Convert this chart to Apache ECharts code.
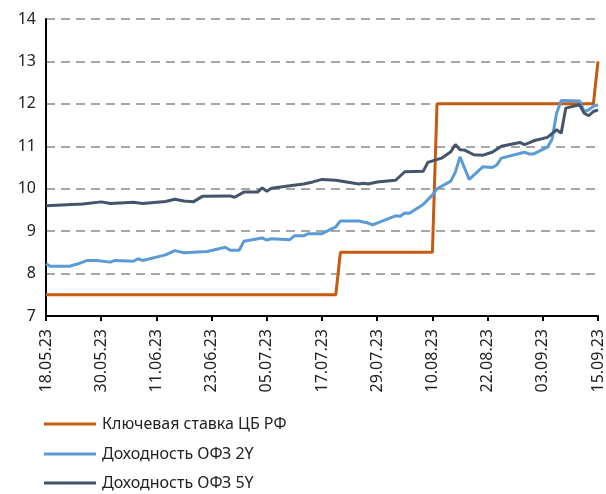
<!DOCTYPE html>
<html>
<head>
<meta charset="utf-8">
<script src="https://cdn.jsdelivr.net/npm/echarts@6/dist/echarts.min.js"></script>
<style>
  html, body { margin: 0; padding: 0; background: #fff; }
  #chart { width: 606px; height: 494px; }
</style>
</head>
<body>
<div id="chart"></div>
<script>
// calendar days on the x axis, 18.05.23 .. 15.09.23
const startDay = new Date(2023, 4, 18);
const dayCount = 121;
const days = [];
for (let i = 0; i < dayCount; i++) {
  const d = new Date(startDay.getTime() + i * 86400000);
  const dd = String(d.getDate()).padStart(2, "0");
  const mm = String(d.getMonth() + 1).padStart(2, "0");
  days.push(dd + "." + mm + ".23");
}

const seriesNames = ["Ключевая ставка ЦБ РФ", "Доходность ОФЗ 2Y", "Доходность ОФЗ 5Y"];

const keyRate = [
  ["18.05.23", 7.5], ["20.07.23", 7.5], ["21.07.23", 8.5], ["10.08.23", 8.5],
  ["11.08.23", 12], ["14.09.23", 12], ["15.09.23", 13]
];

const ofz2y = [
  ["18.05.23", 8.23], ["19.05.23", 8.17], ["23.05.23", 8.17], ["25.05.23", 8.23],
  ["27.05.23", 8.31], ["29.05.23", 8.31], ["01.06.23", 8.27], ["02.06.23", 8.31],
  ["06.06.23", 8.29], ["07.06.23", 8.35], ["08.06.23", 8.31], ["13.06.23", 8.44],
  ["15.06.23", 8.54], ["17.06.23", 8.49], ["22.06.23", 8.52], ["26.06.23", 8.62],
  ["27.06.23", 8.55], ["29.06.23", 8.55], ["30.06.23", 8.76], ["04.07.23", 8.84],
  ["05.07.23", 8.79], ["06.07.23", 8.82], ["10.07.23", 8.80], ["11.07.23", 8.89],
  ["13.07.23", 8.89], ["14.07.23", 8.94], ["17.07.23", 8.94], ["20.07.23", 9.10],
  ["21.07.23", 9.24], ["25.07.23", 9.24], ["27.07.23", 9.19], ["28.07.23", 9.15],
  ["01.08.23", 9.32], ["02.08.23", 9.36], ["03.08.23", 9.35], ["04.08.23", 9.43],
  ["05.08.23", 9.42], ["08.08.23", 9.63], ["10.08.23", 9.85], ["11.08.23", 10.0],
  ["14.08.23", 10.18], ["15.08.23", 10.39], ["16.08.23", 10.75], ["18.08.23", 10.22],
  ["19.08.23", 10.32], ["21.08.23", 10.52], ["23.08.23", 10.50], ["24.08.23", 10.56],
  ["25.08.23", 10.72], ["30.08.23", 10.86], ["31.08.23", 10.82], ["01.09.23", 10.82],
  ["04.09.23", 10.98], ["05.09.23", 11.16], ["06.09.23", 11.78], ["07.09.23", 12.08],
  ["11.09.23", 12.07], ["12.09.23", 11.82], ["13.09.23", 11.86], ["14.09.23", 11.94],
  ["15.09.23", 11.98]
];

const ofz5y = [
  ["18.05.23", 9.60], ["26.05.23", 9.64], ["30.05.23", 9.69], ["01.06.23", 9.65],
  ["06.06.23", 9.68], ["08.06.23", 9.65], ["13.06.23", 9.70], ["15.06.23", 9.75],
  ["17.06.23", 9.71], ["19.06.23", 9.69], ["21.06.23", 9.82], ["27.06.23", 9.83],
  ["28.06.23", 9.80], ["30.06.23", 9.92], ["03.07.23", 9.92], ["04.07.23", 10.02],
  ["05.07.23", 9.94], ["06.07.23", 10.01], ["10.07.23", 10.07], ["13.07.23", 10.11],
  ["15.07.23", 10.16], ["17.07.23", 10.22], ["20.07.23", 10.20], ["25.07.23", 10.11],
  ["26.07.23", 10.13], ["27.07.23", 10.11], ["29.07.23", 10.16], ["02.08.23", 10.20],
  ["04.08.23", 10.40], ["08.08.23", 10.41], ["09.08.23", 10.62], ["12.08.23", 10.72],
  ["14.08.23", 10.87], ["15.08.23", 11.04], ["16.08.23", 10.92], ["17.08.23", 10.91],
  ["19.08.23", 10.80], ["21.08.23", 10.79], ["23.08.23", 10.86], ["25.08.23", 11.00],
  ["29.08.23", 11.09], ["30.08.23", 11.04], ["31.08.23", 11.08], ["01.09.23", 11.13],
  ["04.09.23", 11.21], ["05.09.23", 11.30], ["06.09.23", 11.39], ["07.09.23", 11.31],
  ["08.09.23", 11.90], ["11.09.23", 11.98], ["12.09.23", 11.78], ["13.09.23", 11.72],
  ["14.09.23", 11.82], ["15.09.23", 11.86]
];

const colors = ["#c55a11", "#5b9bd5", "#44546a"];
const font = "Noto Sans";

const toPoints = (list) => list.map(([d, v]) => [days.indexOf(d), v]);

// one legend per row, stacked like the original's vertical key
const legendRow = (name, top) => ({
  left: 44,
  top: top,
  padding: 0,
  icon: "rect",
  itemWidth: 52,
  itemHeight: 3,
  textStyle: { fontFamily: font, fontSize: 16, color: "#222", padding: [0, 0, 0, 1] },
  data: [name],
});

const chart = echarts.init(document.getElementById("chart"));

chart.setOption({
  animation: false,
  backgroundColor: "#ffffff",
  color: colors,
  grid: { left: 46, right: 6, top: 19, bottom: 178 },
  legend: [
    legendRow(seriesNames[0], 416),
    legendRow(seriesNames[1], 446),
    legendRow(seriesNames[2], 475),
  ],
  xAxis: {
    type: "category",
    boundaryGap: false,
    data: days,
    axisLine: { lineStyle: { color: "#000", width: 2 } },
    axisTick: { show: true, interval: 11, length: 5, lineStyle: { color: "#000", width: 2 } },
    axisLabel: {
      interval: 11,
      rotate: 90,
      margin: 13,
      fontFamily: font,
      fontSize: 16,
      color: "#222",
    },
    splitLine: { show: false },
  },
  yAxis: {
    type: "value",
    min: 7,
    max: 14,
    interval: 1,
    axisLine: { show: true, lineStyle: { color: "#000", width: 2 } },
    axisTick: { show: false },
    axisLabel: { fontFamily: font, fontSize: 16, color: "#222", margin: 10 },
    splitLine: { lineStyle: { color: "#a6a6a6", width: 2, type: [9, 6] } },
  },
  series: [
    { name: seriesNames[0], type: "line", symbol: "none", lineStyle: { width: 3 }, data: toPoints(keyRate) },
    { name: seriesNames[1], type: "line", symbol: "none", lineStyle: { width: 3 }, data: toPoints(ofz2y) },
    { name: seriesNames[2], type: "line", symbol: "none", lineStyle: { width: 3 }, data: toPoints(ofz5y) },
  ],
});
</script>
</body>
</html>
